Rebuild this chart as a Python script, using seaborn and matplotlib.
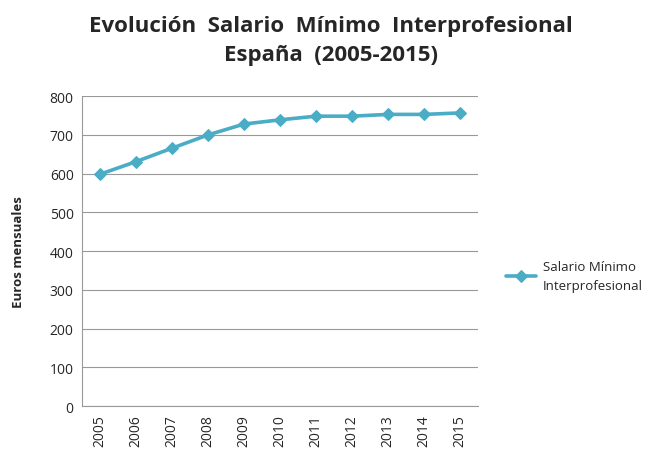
import numpy as np
import pandas as pd
import matplotlib
matplotlib.use("Agg")
import matplotlib.pyplot as plt
import seaborn as sns

# Data
years = ["2005", "2006", "2007", "2008", "2009", "2010", "2011", "2012", "2013", "2014", "2015"]
smi = [598.5, 631.05, 665.7, 700.0, 728.0, 738.85, 748.3, 748.3, 752.85, 752.85, 756.7]
y_ticks = [0, 100, 200, 300, 400, 500, 600, 700, 800]

df = pd.DataFrame({"year": years, "smi": smi})

sns.set_style("white")
plt.rcParams['font.family'] = ['Open Sans', 'DejaVu Sans']

fig = plt.figure(figsize=(6.56, 4.56), dpi=100)
ax = fig.add_axes([0.125, 0.107, 0.604, 0.68])

line_color = "#4BACC6"
sns.lineplot(data=df, x="year", y="smi", ax=ax, color=line_color, linewidth=2.6,
             marker="D", markersize=6.5, markeredgecolor=line_color,
             label="Salario Mínimo\nInterprofesional", sort=False)

ax.set_xlim(-0.5, len(years) - 0.5)
ax.set_ylim(0, 800)
ax.set_yticks(y_ticks)
ax.set_yticklabels([str(t) for t in y_ticks], fontsize=10)
ax.set_xticks(range(len(years)))
ax.set_xticklabels(years, rotation=90, fontsize=10)
ax.grid(axis="y", color="#999999", linewidth=0.8)
ax.set_axisbelow(True)

for side in ["top", "right"]:
    ax.spines[side].set_visible(False)
for side in ["left", "bottom"]:
    ax.spines[side].set_color("#999999")
    ax.spines[side].set_linewidth(0.8)

ax.tick_params(axis="both", length=0, pad=6)
ax.set_xlabel("")
ax.set_ylabel("Euros mensuales", fontsize=9.5, fontweight="bold", labelpad=18)

fig.suptitle("Evolución  Salario  Mínimo  Interprofesional\nEspaña  (2005-2015)",
             x=0.505, y=0.965, fontsize=16, fontweight="bold", linespacing=1.5)

leg = ax.legend(loc="center left", bbox_to_anchor=(1.04, 0.42), frameon=False,
                fontsize=9.5, handlelength=2.3, handletextpad=0.5)
for t in leg.get_texts():
    t.set_linespacing(1.6)

fig.savefig("out.png", dpi=100)
